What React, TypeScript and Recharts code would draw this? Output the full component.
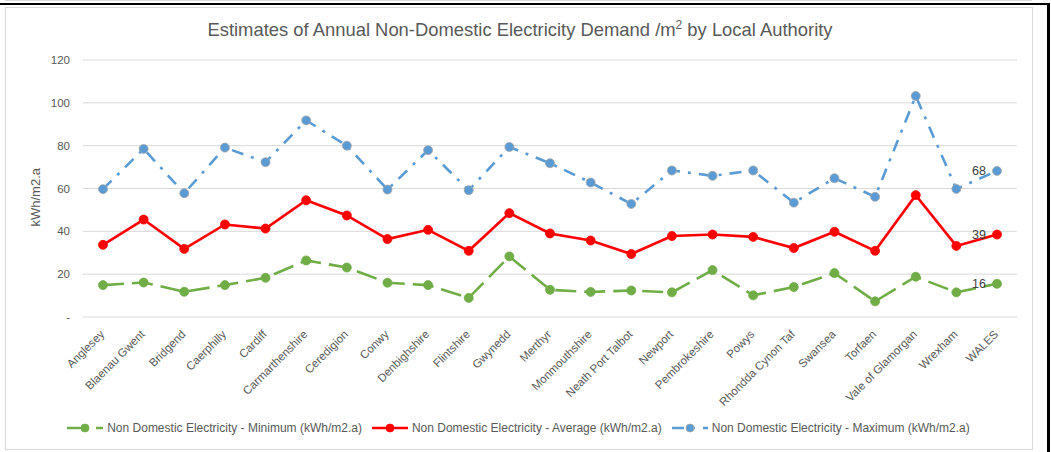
import React from 'react';
import { LineChart, Line, XAxis, YAxis, CartesianGrid, LabelList } from 'recharts';

const categories = ['Anglesey','Blaenau Gwent','Bridgend','Caerphilly','Cardiff','Carmarthenshire','Ceredigion','Conwy','Denbighshire','Flintshire','Gwynedd','Merthyr','Monmouthshire','Neath Port Talbot','Newport','Pembrokeshire','Powys','Rhondda Cynon Taf','Swansea','Torfaen','Vale of Glamorgan','Wrexham','WALES'];
const minimum = [14.9,16.1,11.8,14.9,18.3,26.4,23.1,16.0,14.9,8.9,28.3,12.7,11.7,12.4,11.5,21.9,10.1,14.0,20.5,7.3,18.8,11.5,15.5];
const average = [33.7,45.5,31.8,43.2,41.3,54.5,47.4,36.4,40.7,30.9,48.5,39.0,35.7,29.4,37.8,38.5,37.4,32.2,39.8,30.9,56.9,33.2,38.5];
const maximum = [59.7,78.5,57.8,79.1,72.3,91.8,80.0,59.5,77.9,59.2,79.4,71.8,62.8,52.8,68.4,65.9,68.4,53.4,64.8,56.1,103.2,59.8,68.2];
const yTicks = [0,20,40,60,80,100,120];

const seriesNames = [
  'Non Domestic Electricity - Minimum (kWh/m2.a)',
  'Non Domestic Electricity - Average (kWh/m2.a)',
  'Non Domestic Electricity - Maximum (kWh/m2.a)',
];

const data = categories.map((c, i) => ({ name: c, min: minimum[i], avg: average[i], max: maximum[i] }));

const FONT = '"Liberation Sans", Arial, sans-serif';
const GRAY = '#595959';

const styles = [
  { key: 'min', color: '#70AD47', dash: '21 8' as string | undefined, width: 2.6, r: 4.5, stroke: '#70AD47' },
  { key: 'avg', color: '#FF0000', dash: undefined as string | undefined, width: 2.6, r: 4.5, stroke: '#FF0000' },
  { key: 'max', color: '#5B9BD5', dash: '12 8 3 8' as string | undefined, width: 2.6, r: 4.5, stroke: '#A5A5A5' },
];

const XTick = (props: any) => {
  const { x, y, payload } = props;
  const tx = x + 2;
  const ty = y + 10;
  return (
    <text x={tx} y={ty} transform={`rotate(-45 ${tx} ${ty})`} textAnchor="end" fill={GRAY} fontSize={11.5} fontFamily={FONT}>
      {payload.value}
    </text>
  );
};

const lastLabel = (props: any) => {
  const { x, y, value, index } = props;
  if (index !== categories.length - 1) return null;
  return (
    <text x={x - 11} y={y} dy="0.35em" textAnchor="end" fill="#404040" fontSize={12.5} fontFamily={FONT}>
      {Math.round(value)}
    </text>
  );
};

const LegendIcon = ({ s }: { s: typeof styles[number] }) => (
  <svg width={36} height={12} style={{ display: 'block' }}>
    <line x1={0} y1={6} x2={36} y2={6} stroke={s.color} strokeWidth={2.5} strokeDasharray={s.dash} />
    <circle cx={18} cy={6} r={4} fill={s.color} stroke={s.stroke} strokeWidth={0.8} />
  </svg>
);

export default function App() {
  return (
    <div style={{ position: 'absolute', left: 0, top: 0, width: 1051, height: 452, background: '#fff', overflow: 'hidden', fontFamily: FONT }}>
      <div style={{ position: 'absolute', left: 5, top: 0, width: 1027, height: 1, background: '#D9D9D9' }} />
      <div style={{ position: 'absolute', left: 0, top: 3, width: 1050, height: 2, background: '#000' }} />
      <div style={{ position: 'absolute', left: 1047, top: 3, width: 3, height: 449, background: '#000' }} />
      <div style={{ position: 'absolute', left: 5, top: 7, width: 1026, height: 441, border: '1px solid #D9D9D9' }} />
      <div style={{ position: 'absolute', left: 0, top: 19, width: 1040, textAlign: 'center', fontSize: 18.4, color: GRAY, whiteSpace: 'nowrap' }}>
        Estimates of Annual Non-Domestic Electricity Demand /m<sup style={{ fontSize: 12, verticalAlign: 'super', lineHeight: 0 }}>2</sup> by Local Authority
      </div>
      <div style={{ position: 'absolute', left: 0, top: 0 }}>
        <LineChart width={1051} height={452} data={data} margin={{ top: 60, right: 34, left: 43, bottom: 55 }}>
          <CartesianGrid vertical={false} stroke="#D9D9D9" strokeWidth={1} />
          <XAxis dataKey="name" interval={0} padding={{ left: 20, right: 20 }} axisLine={false} tickLine={false} height={80} tick={<XTick />} />
          <YAxis domain={[0, 120]} ticks={yTicks} width={40} axisLine={false} tickLine={false} tickSize={0} tickMargin={13}
            tick={{ fill: GRAY, fontSize: 11.5, fontFamily: FONT }}
            tickFormatter={(v: number) => (v === 0 ? '-' : String(v))}
            label={{ value: 'kWh/m2.a', angle: -90, position: 'insideLeft', offset: -8, fill: GRAY, fontSize: 13, fontFamily: FONT, dy: 38 }} />
          {styles.map((s) => (
            <Line key={s.key} type="linear" dataKey={s.key} stroke={s.color} strokeWidth={s.width} strokeDasharray={s.dash}
              isAnimationActive={false}
              dot={{ r: s.r, fill: s.color, stroke: s.stroke, strokeWidth: 0.8, strokeDasharray: '' }}
              activeDot={false}>
              <LabelList dataKey={s.key} content={lastLabel} />
            </Line>
          ))}
        </LineChart>
      </div>
      <div style={{ position: 'absolute', left: 0, top: 421, width: 1037, display: 'flex', justifyContent: 'center', alignItems: 'center', fontSize: 12, color: GRAY }}>
        {styles.map((s, i) => (
          <div key={s.key} style={{ display: 'flex', alignItems: 'center', marginRight: i < 2 ? 10 : 0 }}>
            <LegendIcon s={s} />
            <span style={{ marginLeft: 4, whiteSpace: 'nowrap' }}>{seriesNames[i]}</span>
          </div>
        ))}
      </div>
    </div>
  );
}
